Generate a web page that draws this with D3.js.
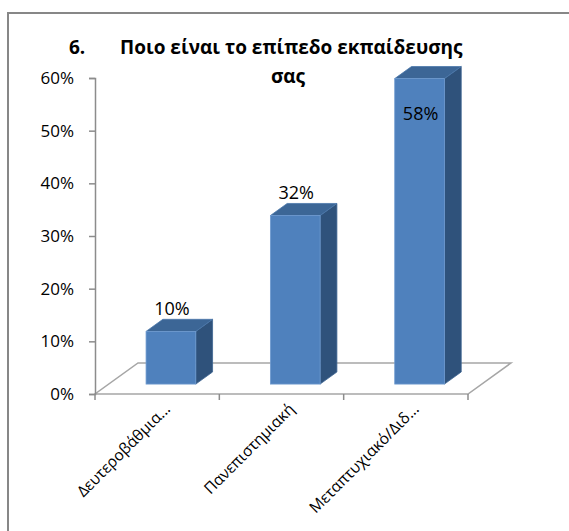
<!DOCTYPE html>
<html>
<head>
<meta charset="utf-8">
<script src="https://cdn.jsdelivr.net/npm/d3@7"></script>
<style>
  html, body { margin: 0; padding: 0; background: #fff; }
  svg { display: block; }
</style>
</head>
<body>
<svg id="chart" width="569" height="531"></svg>
<script>
// Education level of respondents (share of answers)
const categories = ["Δευτεροβάθμια...", "Πανεπιστημιακή", "Μεταπτυχιακό/Διδ..."];
const values = [10, 32, 58];
const yTicks = [0, 10, 20, 30, 40, 50, 60];
const titleNumber = "6.";
const titleLines = ["Ποιο είναι το επίπεδο εκπαίδευσης", "σας"];

const svg = d3.select("#chart");
const font = "'Open Sans', 'Noto Sans', 'DejaVu Sans', sans-serif";

// Frame of the chart area (runs off the right and bottom edges)
svg.append("rect")
  .attr("x", 8).attr("y", 13)
  .attr("width", 600).attr("height", 560)
  .attr("fill", "#fff")
  .attr("stroke", "#878787").attr("stroke-width", 2);

// Plot geometry: front plane of the floor, and the depth vector of the 3-D box
const plot = { left: 95, right: 468, bottom: 394, top: 78 };
const depth = [43, -31];
const barFront = 0.32, barBack = 0.71;

const y = d3.scaleLinear().domain([0, 60]).range([plot.bottom, plot.top]);
const x = d3.scaleBand().domain(categories).range([plot.left, plot.right]).padding(0);
const barW = x.bandwidth() * 0.4;

const gray = "#8c8c8c";

// Floor (parallelogram)
const floorPts = [
  [plot.left, plot.bottom],
  [plot.right, plot.bottom],
  [plot.right + depth[0], plot.bottom + depth[1]],
  [plot.left + depth[0], plot.bottom + depth[1]]
];
svg.append("path")
  .attr("d", d3.line()(floorPts) + "Z")
  .attr("fill", "none")
  .attr("stroke", "#a6a6a6").attr("stroke-width", 1.5);

// Value axis
const yAxis = d3.axisLeft(y)
  .tickValues(yTicks)
  .tickSize(6)
  .tickPadding(15)
  .tickFormat(d => d + "%");
const gy = svg.append("g")
  .attr("transform", `translate(${plot.left},0)`)
  .call(yAxis);
gy.select(".domain").attr("stroke", gray).attr("stroke-width", 1.5);
gy.selectAll(".tick line").attr("stroke", gray).attr("stroke-width", 1.5);
gy.selectAll(".tick text")
  .attr("font-family", font).attr("font-size", 17).attr("fill", "#000");

// Category axis ticks along the front edge of the floor
const tickXs = [plot.left].concat(categories.map(c => x(c) + x.bandwidth()));
svg.append("g").selectAll("line")
  .data(tickXs)
  .join("line")
  .attr("x1", d => d).attr("x2", d => d)
  .attr("y1", plot.bottom).attr("y2", plot.bottom + 6)
  .attr("stroke", gray).attr("stroke-width", 1.5);

// Category labels, rotated
svg.append("g").selectAll("text")
  .data(categories)
  .join("text")
  .attr("transform", d => `translate(${x(d) + x.bandwidth() / 2 + 14},${plot.bottom + 16}) rotate(-45)`)
  .attr("text-anchor", "end")
  .attr("font-family", font).attr("font-size", 15.5)
  .attr("fill", "#000")
  .text(d => d);

// 3-D columns
const fdx = depth[0] * barFront, fdy = depth[1] * barFront;
const bdx = depth[0] * (barBack - barFront), bdy = depth[1] * (barBack - barFront);

const bars = svg.append("g").selectAll("g")
  .data(categories.map((c, i) => ({ c, v: values[i] })))
  .join("g");

bars.each(function (d) {
  const g = d3.select(this);
  const x0 = x(d.c) + (x.bandwidth() - barW) / 2 + fdx;
  const x1 = x0 + barW;
  const yb = y(0) + fdy;
  const yt = y(d.v) + fdy;
  // side face
  g.append("path")
    .attr("d", d3.line()([[x1, yb], [x1 + bdx, yb + bdy], [x1 + bdx, yt + bdy], [x1, yt]]) + "Z")
    .attr("fill", "#2f527b").attr("stroke", "#3d6492").attr("stroke-width", 0.8);
  // top face
  g.append("path")
    .attr("d", d3.line()([[x0, yt], [x0 + bdx, yt + bdy], [x1 + bdx, yt + bdy], [x1, yt]]) + "Z")
    .attr("fill", "#3c6696").attr("stroke", "#4a77ab").attr("stroke-width", 0.8);
  // front face
  g.append("rect")
    .attr("x", x0).attr("y", yt)
    .attr("width", barW).attr("height", yb - yt)
    .attr("fill", "#4f81bd").attr("stroke", "#6f9bd0").attr("stroke-width", 0.8);

  // value label: above the column, or inside it when there is no room above
  const inside = yt + bdy - 30 < plot.top;
  g.append("text")
    .attr("x", x0 + barW / 2 + 1)
    .attr("y", inside ? yt + 41 : yt + bdy - 4)
    .attr("text-anchor", "middle")
    .attr("font-family", font).attr("font-size", 18)
    .attr("fill", "#000")
    .text(d.v + "%");
});

// Title
const title = svg.append("g")
  .attr("font-family", font).attr("font-weight", "bold")
  .attr("font-size", 19).attr("fill", "#000");
title.append("text").attr("x", 69).attr("y", 54).text(titleNumber);
title.append("text").attr("x", 120).attr("y", 54).text(titleLines[0]);
title.append("text").attr("x", 288).attr("y", 83).attr("text-anchor", "middle").text(titleLines[1]);
</script>
</body>
</html>
